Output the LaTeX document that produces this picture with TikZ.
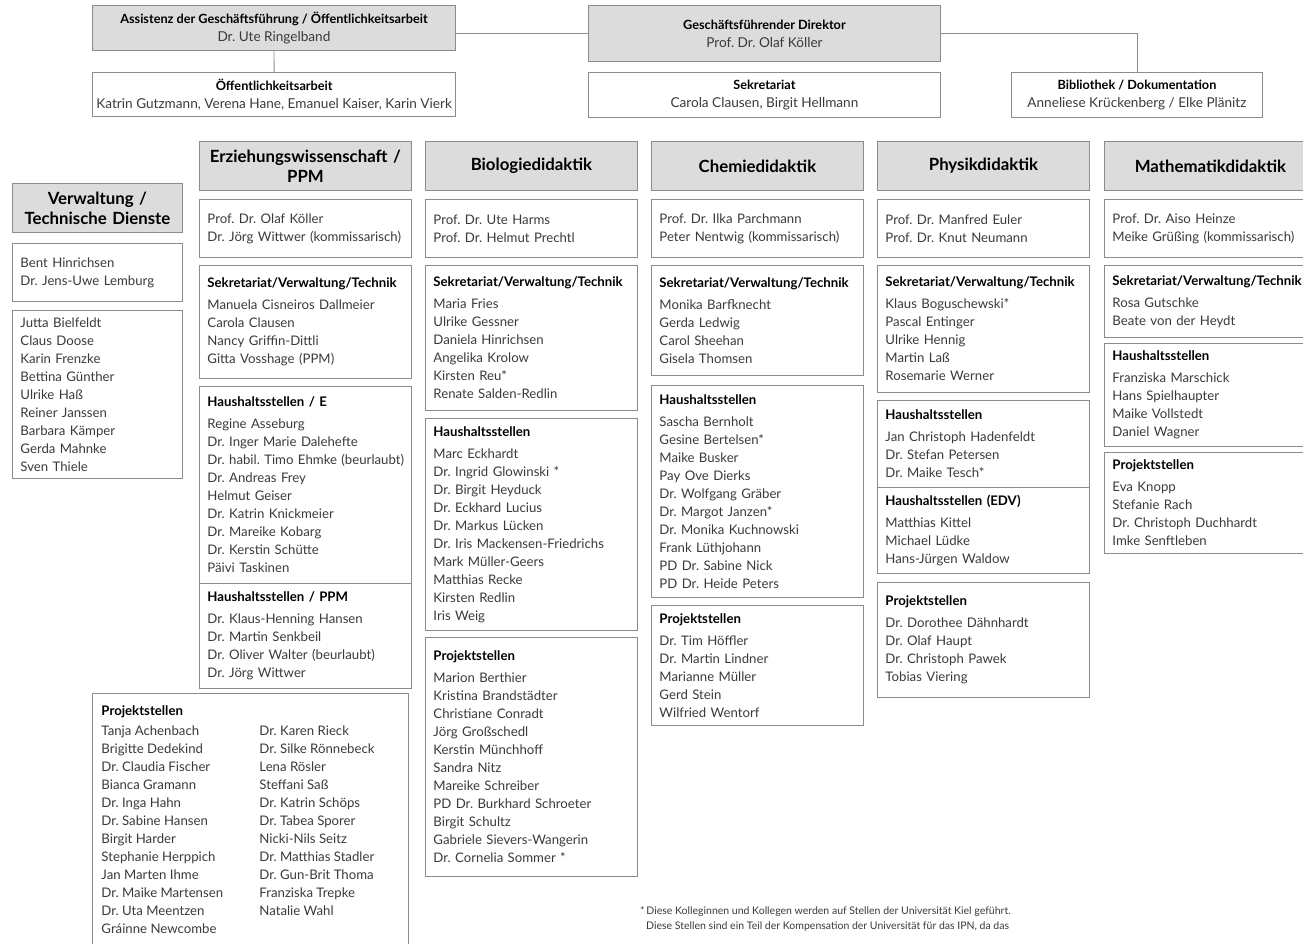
\documentclass[tikz,border=0pt]{standalone}
\usepackage{fontspec}
\setmainfont{Lato}
\frenchspacing
\definecolor{headgray}{HTML}{DCDCDC}
\definecolor{framegray}{HTML}{8C8C8C}
\definecolor{namegray}{HTML}{3A3A3A}
\newcommand{\nm}{\fontsize{13.2}{18}\selectfont}
\newcommand{\hd}[1]{{\bfseries\color{black}#1}\\[4pt]}
\newcommand{\tophd}[1]{{\fontsize{12.7}{18}\selectfont\bfseries\color{black}#1}}

\begin{document}
\begin{tikzpicture}[x=1pt, y=-1pt, every node/.style={font=\nm},
	box/.style={draw=framegray, line width=0.9pt, anchor=north west, align=left, inner xsep=8pt, inner ysep=0pt, text=namegray},
	col/.style={box, text width=196pt},
	head/.style={box, fill=headgray, align=center, text=black, text width=196pt, minimum height=49, font=\fontsize{16.8}{20}\selectfont\bfseries},
	top/.style={box, align=center, inner xsep=4pt, font=\fontsize{13.6}{18}\selectfont},
	link/.style={draw=framegray, line width=0.9pt}]
	\useasboundingbox (0,0) rectangle (1303,943);
	\node[top, fill=headgray, minimum width=363, minimum height=45] (assist) at (92,5) {\tophd{Assistenz der Geschäftsführung / Öffentlichkeitsarbeit}\\Dr. Ute Ringelband};
	\node[top, minimum width=363, minimum height=44] (oeff) at (92,72) {\tophd{Öffentlichkeitsarbeit}\\Katrin Gutzmann, Verena Hane, Emanuel Kaiser, Karin Vierk};
	\node[top, fill=headgray, minimum width=352, minimum height=56] (gf) at (588,5) {\tophd{Geschäftsführender Direktor}\\Prof. Dr. Olaf Köller};
	\node[top, minimum width=352, minimum height=45] (sekr) at (588,72) {\tophd{Sekretariat}\\Carola Clausen, Birgit Hellmann};
	\node[top, minimum width=251, minimum height=45] (bib) at (1011,72) {\tophd{Bibliothek / Dokumentation}\\Anneliese Krückenberg / Elke Plänitz};
	\draw[link] (gf.west) -- (gf.west -| assist.east);
	\draw[link] (assist.south) -- (oeff.north);
	\draw[link] (gf.east) -| (bib.north);

	\node[head, text width=154pt] (verwHead) at (12,183) {Verwaltung /\\Technische Dienste};
	\node[box, text width=154pt, minimum height=58] (verwLead) at (12,243) {Bent Hinrichsen\\Dr. Jens-Uwe Lemburg};
	\node[box, text width=154pt, minimum height=168] (verwStaff) at (12,310) {Jutta Bielfeldt\\Claus Doose\\Karin Frenzke\\Bettina Günther\\Ulrike Haß\\Reiner Janssen\\Barbara Kämper\\Gerda Mahnke\\Sven Thiele};

	\node[head] (ewHead) at (199,141) {Erziehungswissenschaft /\\PPM};
	\node[col, minimum height=58] (ewLead) at (199,199) {Prof. Dr. Olaf Köller\\Dr. Jörg Wittwer (kommissarisch)};
	\node[col, minimum height=113] (ewSek) at (199,265) {\hd{Sekretariat/Verwaltung/Technik}Manuela Cisneiros Dallmeier\\Carola Clausen\\Nancy Griffin-Dittli\\Gitta Vosshage (PPM)};
	\node[col, minimum height=197] (ewHausE) at (199,386) {\hd{Haushaltsstellen / E}Regine Asseburg\\Dr. Inger Marie Dalehefte\\\mbox{Dr. habil. Timo Ehmke (beurlaubt)}\\Dr. Andreas Frey\\Helmut Geiser\\Dr. Katrin Knickmeier\\Dr. Mareike Kobarg\\Dr. Kerstin Schütte\\Päivi Taskinen};
	\node[col, minimum height=105] (ewHausP) at (199,583) {\hd{Haushaltsstellen / PPM}Dr. Klaus-Henning Hansen\\Dr. Martin Senkbeil\\Dr. Oliver Walter (beurlaubt)\\Dr. Jörg Wittwer};
	\node[box, inner xsep=9pt, inner ysep=9pt] (ewProj) at (92,693) {\begin{tabular}{@{}p{158pt}@{}p{140pt}@{}}
		\multicolumn{2}{@{}l@{}}{\bfseries\color{black}Projektstellen}\\[2pt]
		Tanja Achenbach & Dr. Karen Rieck\\
		Brigitte Dedekind & Dr. Silke Rönnebeck\\
		Dr. Claudia Fischer & Lena Rösler\\
		Bianca Gramann & Steffani Saß\\
		Dr. Inga Hahn & Dr. Katrin Schöps\\
		Dr. Sabine Hansen & Dr. Tabea Sporer\\
		Birgit Harder & Nicki-Nils Seitz\\
		Stephanie Herppich & Dr. Matthias Stadler\\
		Jan Marten Ihme & Dr. Gun-Brit Thoma\\
		Dr. Maike Martensen & Franziska Trepke\\
		Dr. Uta Meentzen & Natalie Wahl\\
		Gráinne Newcombe &
	\end{tabular}};

	\node[head] (bioHead) at (425,141) {Biologiedidaktik};
	\node[col, minimum height=58] (bioLead) at (425,199) {Prof. Dr. Ute Harms\\Prof. Dr. Helmut Prechtl};
	\node[col, minimum height=145] (bioSek) at (425,265) {\hd{Sekretariat/Verwaltung/Technik}Maria Fries\\Ulrike Gessner\\Daniela Hinrichsen\\Angelika Krolow\\Kirsten Reu*\\Renate Salden-Redlin};
	\node[col, minimum height=212] (bioHaus) at (425,418) {\hd{Haushaltsstellen}Marc Eckhardt\\Dr. Ingrid Glowinski *\\Dr. Birgit Heyduck\\Dr. Eckhard Lucius\\Dr. Markus Lücken\\Dr. Iris Mackensen-Friedrichs\\Mark Müller-Geers\\Matthias Recke\\Kirsten Redlin\\Iris Weig};
	\node[col, minimum height=239] (bioProj) at (425,637) {\hd{Projektstellen}Marion Berthier\\Kristina Brandstädter\\Christiane Conradt\\Jörg Großschedl\\Kerstin Münchhoff\\Sandra Nitz\\Mareike Schreiber\\PD Dr. Burkhard Schroeter\\Birgit Schultz\\Gabriele Sievers-Wangerin\\Dr. Cornelia Sommer *};

	\node[head] (chemHead) at (651,141) {Chemiedidaktik};
	\node[col, minimum height=58] (chemLead) at (651,199) {Prof. Dr. Ilka Parchmann\\Peter Nentwig (kommissarisch)};
	\node[col, minimum height=110] (chemSek) at (651,265) {\hd{Sekretariat/Verwaltung/Technik}Monika Barfknecht\\Gerda Ledwig\\Carol Sheehan\\Gisela Thomsen};
	\node[col, minimum height=212] (chemHaus) at (651,385) {\hd{Haushaltsstellen}Sascha Bernholt\\Gesine Bertelsen*\\Maike Busker\\Pay Ove Dierks\\Dr. Wolfgang Gräber\\Dr. Margot Janzen*\\Dr. Monika Kuchnowski\\Frank Lüthjohann\\PD Dr. Sabine Nick\\PD Dr. Heide Peters};
	\node[col, minimum height=120] (chemProj) at (651,605) {\hd{Projektstellen}Dr. Tim Höffler\\Dr. Martin Lindner\\Marianne Müller\\Gerd Stein\\Wilfried Wentorf};

	\node[head] (physHead) at (877,141) {Physikdidaktik};
	\node[col, minimum height=58] (physLead) at (877,199) {Prof. Dr. Manfred Euler\\Prof. Dr. Knut Neumann};
	\node[col, minimum height=127] (physSek) at (877,265) {\hd{Sekretariat/Verwaltung/Technik}Klaus Boguschewski*\\Pascal Entinger\\Ulrike Hennig\\Martin Laß\\Rosemarie Werner};
	\node[col, minimum height=87] (physHaus) at (877,400) {\hd{Haushaltsstellen}Jan Christoph Hadenfeldt\\Dr. Stefan Petersen\\Dr. Maike Tesch*};
	\node[col, minimum height=86] (physEdv) at (877,487) {\hd{Haushaltsstellen (EDV)}Matthias Kittel\\Michael Lüdke\\Hans-Jürgen Waldow};
	\node[col, minimum height=115] (physProj) at (877,582) {\hd{Projektstellen}Dr. Dorothee Dähnhardt\\Dr. Olaf Haupt\\Dr. Christoph Pawek\\Tobias Viering};

	\node[head] (mathHead) at (1104,141) {Mathematikdidaktik};
	\node[col, minimum height=58] (mathLead) at (1104,199) {Prof. Dr. Aiso Heinze\\Meike Grüßing (kommissarisch)};
	\node[col, minimum height=72] (mathSek) at (1104,265) {\hd{Sekretariat/Verwaltung/Technik}Rosa Gutschke\\Beate von der Heydt};
	\node[col, minimum height=103] (mathHaus) at (1104,343) {\hd{Haushaltsstellen}Franziska Marschick\\Hans Spielhaupter\\Maike Vollstedt\\Daniel Wagner};
	\node[col, minimum height=101] (mathProj) at (1104,452) {\hd{Projektstellen}Eva Knopp\\Stefanie Rach\\Dr. Christoph Duchhardt\\Imke Senftleben};

	\node[anchor=north west, align=left, inner sep=0pt, text=namegray, font=\fontsize{10.5}{15}\selectfont] (note) at (640,906) {*\,Diese Kolleginnen und Kollegen werden auf Stellen der Universität Kiel geführt.\\\hspace*{6pt}Diese Stellen sind ein Teil der Kompensation der Universität für das IPN, da das};
\end{tikzpicture}
\end{document}
